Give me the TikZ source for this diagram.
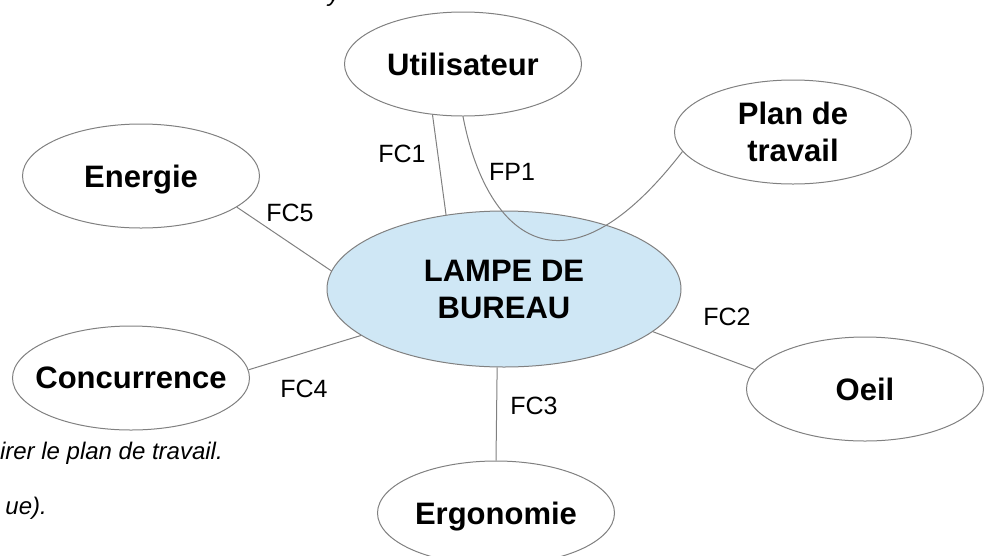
\documentclass[tikz,border=0pt]{standalone}
\usepackage{fontspec}
\setmainfont{Liberation Sans}
\usetikzlibrary{shapes.geometric}

\definecolor{paleblue}{RGB}{207,231,245}
\definecolor{edgegray}{RGB}{128,128,128}

\tikzset{
  bubble/.style={ellipse, draw=edgegray, line width=1pt, fill=white,
    minimum width=237pt, minimum height=104pt, inner sep=0pt,
    align=center, text depth=0pt, font=\fontsize{31}{37}\selectfont\bfseries},
  fc/.style={inner sep=0pt, font=\fontsize{25}{30}\selectfont},
  note/.style={inner sep=0pt, font=\fontsize{24}{29}\selectfont\itshape},
  link/.style={draw=edgegray, line width=1pt},
}

\begin{document}
\begin{tikzpicture}[x=1pt,y=-1pt]
  \useasboundingbox (0,0) rectangle (988,555);
  \clip (0,0) rectangle (988,555);

  % text of the page, cut by the frame
  \node[note, anchor=base] (notetop) at (334,1) {y};
  \node[note, anchor=base east] (noteone) at (223,459) {irer le plan de travail.};
  \node[note, anchor=base east] (notetwo) at (47,514) {ue).};

  % the product
  \node[bubble, fill=paleblue, minimum width=354pt, minimum height=156pt] (lampe) at (504,289) {LAMPE DE\\BUREAU};

  % the surroundings
  \node[bubble] (util) at (463,64) {Utilisateur};
  \node[bubble] (plan) at (793,132) {Plan de\\travail};
  \node[bubble] (energie) at (141,176) {Energie};
  \node[bubble, inner xsep=-14pt] (conc) at (131,378) {Concurrence};
  \node[bubble] (oeil) at (865,389) {Oeil};
  \node[bubble] (ergo) at (496,513) {Ergonomie};

  % functions
  \draw[link] (util.south) .. controls +(22,115) and +(-122,158) .. (plan.190);
  \draw[link] (util.239) -- (lampe.128);
  \draw[link] (lampe.344) -- (oeil.170);
  \draw[link] (lampe.265) -- (ergo.north);
  \draw[link] (lampe.198) -- (conc.4);
  \draw[link] (lampe.174) -- (energie.342);

  \node[fc] (fcone) at (402,154) {FC1};
  \node[fc] (fpone) at (512,172) {FP1};
  \node[fc] (fctwo) at (727,317) {FC2};
  \node[fc] (fcthree) at (534,406) {FC3};
  \node[fc] (fcfour) at (304,389) {FC4};
  \node[fc] (fcfive) at (290,213) {FC5};
\end{tikzpicture}
\end{document}
